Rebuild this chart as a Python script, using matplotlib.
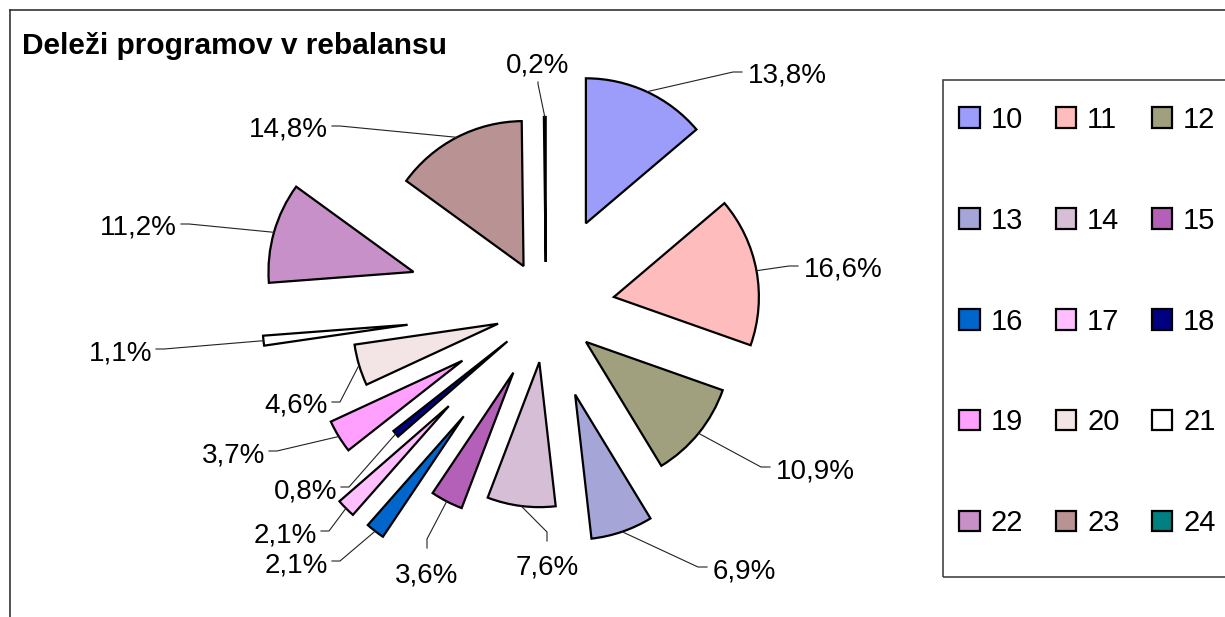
import matplotlib
matplotlib.use('Agg')
import matplotlib.pyplot as plt
import numpy as np
from matplotlib.lines import Line2D
from matplotlib.patches import Rectangle

plt.rcParams['font.family'] = ['Liberation Sans', 'DejaVu Sans']

# ------------------------------------------------------------------
# data
# ------------------------------------------------------------------
programs = ['10', '11', '12', '13', '14', '15', '16', '17',
            '18', '19', '20', '21', '22', '23', '24']
shares = [13.8, 16.6, 10.9, 6.9, 7.6, 3.6, 2.1, 2.1,
          0.8, 3.7, 4.6, 1.1, 11.2, 14.8, 0.2]
title = 'Deleži programov v rebalansu'

# ------------------------------------------------------------------
# style / layout
# ------------------------------------------------------------------
colors = ['#9C9CFA', '#FFBCBC', '#A0A07E', '#A5A5D8', '#D6BED6',
          '#B560B8', '#0066CC', '#FFBFFF', '#000080', '#FFA0FF',
          '#F3E5E5', '#FFFFFF', '#C890C8', '#B99393', '#008080']
# each slice was pulled out by its own amount
explode = [0.655, 0.476, 0.355, 0.62, 0.366, 0.49, 0.93, 0.945,
           0.345, 0.676, 0.345, 0.96, 0.95, 0.337, 0.328]

W, H = 1225, 617
PX = 145            # pie radius in pixels
cx, cy = 546, 309.5  # pie centre in pixels (from top-left)

# label anchor in pixels (x, y of text middle) and which side the leader comes from
label_px = [(748, 73, 'r'), (804, 267, 'r'), (776, 468, 'r'), (713, 568, 'r'),
            (547, 565, 'b'), (427, 572, 'b'), (328, 562, 'l'), (317, 532, 'l'),
            (337, 488, 'l'), (265, 452, 'l'), (328, 403, 'l'), (152, 350, 'l'),
            (177, 225, 'l'), (328, 127, 'l'), (538, 62, 't')]


def to_data(px, py):
    return (px - cx) / PX, (cy - py) / PX


fig = plt.figure(figsize=(W / 100, H / 100), dpi=100)
ax = fig.add_axes([0, 0, 1, 1])

wedges, _ = ax.pie(shares, colors=colors, explode=explode, startangle=90,
                   counterclock=False, radius=1,
                   wedgeprops=dict(edgecolor='black', linewidth=1.6))
ax.set_xlim(-cx / PX, (W - cx) / PX)
ax.set_ylim(-(H - cy) / PX, cy / PX)
ax.set_aspect('equal')
ax.axis('off')

# --- percentage labels with leader lines ---
vals = np.array(shares)
mid = np.deg2rad(360 * (np.cumsum(vals) - vals / 2) / vals.sum())
p = 1 / PX
for i, (lx, ly, side) in enumerate(label_px):
    r = 1 + explode[i]
    arc = (r * np.sin(mid[i]), r * np.cos(mid[i]))
    x, y = to_data(lx, ly)
    txt = f'{shares[i]:.1f}'.replace('.', ',') + '%'
    if side == 'r':
        end = (x - 6 * p, y + 1 * p)
        elbow = (end[0] - 9 * p, end[1])
        ax.text(x, y - 10 * p, txt, ha='left', va='baseline', fontsize=20)
    elif side == 'l':
        end = (x + 4 * p, y + 1 * p)
        elbow = (end[0] + 8 * p, end[1])
        ax.text(x, y - 10 * p, txt, ha='right', va='baseline', fontsize=20)
    elif side == 'b':
        end = (x, y + 24 * p)
        elbow = (x, end[1] + 9 * p)
        ax.text(x, y - 10 * p, txt, ha='center', va='baseline', fontsize=20)
    else:
        end = (x, y - 20 * p)
        elbow = (x, end[1] - 2 * p)
        ax.text(x, y - 10 * p, txt, ha='center', va='baseline', fontsize=20)
    ax.plot([arc[0], elbow[0], end[0]], [arc[1], elbow[1], end[1]],
            color='#222222', lw=0.8, zorder=1)

# --- title ---
fig.text(22 / W, 1 - 54 / H, title, ha='left', va='baseline',
         fontsize=21.5, fontweight='bold')

# --- chart area border (only left and top edges visible) ---
fig.add_artist(Line2D([10 / W, 10 / W], [0, 1 - 10 / H], color='#333333', lw=1.2))
fig.add_artist(Line2D([10 / W, 1], [1 - 10 / H, 1 - 10 / H], color='#333333', lw=1.2))

# --- legend: 3 columns, row-major order ---
order = [0, 3, 6, 9, 12, 1, 4, 7, 10, 13, 2, 5, 8, 11, 14]
fig.add_artist(Rectangle((943 / W, 1 - 577 / H), 0.5, (577 - 80) / H,
                         transform=fig.transFigure, fill=False,
                         edgecolor='#444444', lw=1.2))
fig.legend([wedges[k] for k in order], [programs[k] for k in order],
           ncol=3, loc='center', bbox_to_anchor=(1087.5 / W, 1 - 321.5 / H),
           frameon=False, fontsize=21, labelspacing=2.5,
           handlelength=0.7, handleheight=0.7, handletextpad=0.38,
           columnspacing=1.1, borderpad=0)

fig.savefig('out.png', dpi=100)
